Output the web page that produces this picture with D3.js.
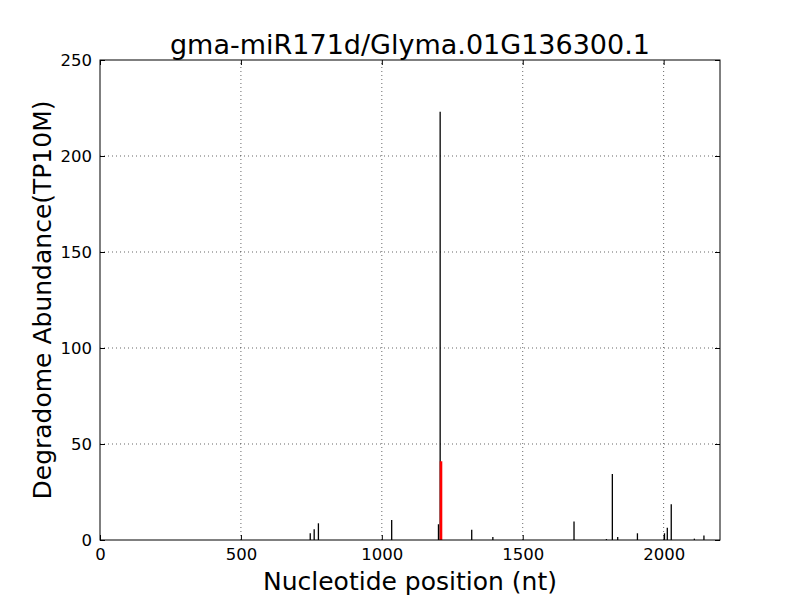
<!DOCTYPE html>
<html>
<head>
<meta charset="utf-8">
<script src="https://cdn.jsdelivr.net/npm/d3@7"></script>
<style>
  body { margin: 0; background: #fff; }
  svg { font-family: "DejaVu Sans", sans-serif; }
</style>
</head>
<body>
<svg id="chart" width="800" height="600"></svg>
<script>
// degradome reads: position (nt) and abundance (TP10M)
const positions = [746, 760, 775, 1035, 1201, 1207, 1319, 1394, 1682, 1797, 1818, 1837, 1907, 2003, 2013, 2027, 2109, 2143];
const abundance = [3.5, 5.6, 8.7, 10.4, 8.2, 223, 5.3, 1.5, 9.7, 0.5, 34.4, 1.5, 3.5, 3.5, 6.4, 18.6, 0.7, 2.4];
// predicted cleavage site
const sitePos = [1210];
const siteVal = [41];
const xTicks = [0, 500, 1000, 1500, 2000];
const yTicks = [0, 50, 100, 150, 200, 250];

const reads = positions.map((p, i) => ({ pos: p, val: abundance[i] }));
const sites = sitePos.map((p, i) => ({ pos: p, val: siteVal[i] }));

const svg = d3.select("#chart");
const m = { left: 100, right: 80, top: 60, bottom: 60 };
const W = 800, H = 600;

const x = d3.scaleLinear().domain([0, 2200]).range([m.left, W - m.right]);
const y = d3.scaleLinear().domain([0, 250]).range([H - m.bottom, m.top]);

// grid
svg.append("g").selectAll("line").data(xTicks.slice(1)).enter().append("line")
    .attr("x1", d => x(d)).attr("x2", d => x(d))
    .attr("y1", y(0)).attr("y2", y(250))
    .attr("stroke", "#000").attr("stroke-width", 0.6).attr("stroke-dasharray", "1,3");
svg.append("g").selectAll("line").data(yTicks.slice(1, -1)).enter().append("line")
    .attr("x1", x(0)).attr("x2", x(2200))
    .attr("y1", d => y(d)).attr("y2", d => y(d))
    .attr("stroke", "#000").attr("stroke-width", 0.6).attr("stroke-dasharray", "1,3");

// bars
svg.append("g").selectAll("line").data(reads).enter().append("line")
    .attr("x1", d => x(d.pos)).attr("x2", d => x(d.pos))
    .attr("y1", y(0)).attr("y2", d => y(d.val))
    .attr("stroke", "#000").attr("stroke-width", 1.3);

svg.append("g").selectAll("line").data(sites).enter().append("line")
    .attr("x1", d => x(d.pos)).attr("x2", d => x(d.pos))
    .attr("y1", y(0)).attr("y2", d => y(d.val))
    .attr("stroke", "#ff0000").attr("stroke-width", 2.6);

// axes (classic style: inward ticks on all sides)
const tickLen = 5;
const fmt = d3.format("d");
const xAxis = svg.append("g").attr("transform", `translate(0,${y(0)})`)
    .call(d3.axisBottom(x).tickValues(xTicks).tickFormat(fmt).tickSizeInner(-tickLen).tickSizeOuter(0).tickPadding(8));
const xTop = svg.append("g").attr("transform", `translate(0,${y(250)})`)
    .call(d3.axisTop(x).tickValues(xTicks).tickSizeInner(-tickLen).tickSizeOuter(0).tickFormat(""));
const yAxis = svg.append("g").attr("transform", `translate(${x(0)},0)`)
    .call(d3.axisLeft(y).tickValues(yTicks).tickFormat(fmt).tickSizeInner(-tickLen).tickSizeOuter(0).tickPadding(8));
const yRight = svg.append("g").attr("transform", `translate(${x(2200)},0)`)
    .call(d3.axisRight(y).tickValues(yTicks).tickSizeInner(-tickLen).tickSizeOuter(0).tickFormat(""));

[xAxis, xTop, yAxis, yRight].forEach(g => {
  g.select(".domain").remove();
  g.selectAll("line").attr("stroke", "#000");
  g.selectAll("text").attr("font-family", "DejaVu Sans").attr("font-size", 16.5).attr("fill", "#000");
});

// frame
svg.append("rect")
    .attr("x", x(0)).attr("y", y(250))
    .attr("width", x(2200) - x(0)).attr("height", y(0) - y(250))
    .attr("fill", "none").attr("stroke", "#000").attr("stroke-width", 1);

svg.append("text")
    .attr("x", (x(0) + x(2200)) / 2).attr("y", 54)
    .attr("text-anchor", "middle").attr("font-size", 27)
    .text("gma-miR171d/Glyma.01G136300.1");

svg.append("text")
    .attr("x", (x(0) + x(2200)) / 2).attr("y", 590)
    .attr("text-anchor", "middle").attr("font-size", 25)
    .text("Nucleotide position (nt)");

svg.append("text")
    .attr("transform", `translate(51,${(y(0) + y(250)) / 2}) rotate(-90)`)
    .attr("text-anchor", "middle").attr("font-size", 25)
    .text("Degradome Abundance(TP10M)");
</script>
</body>
</html>
